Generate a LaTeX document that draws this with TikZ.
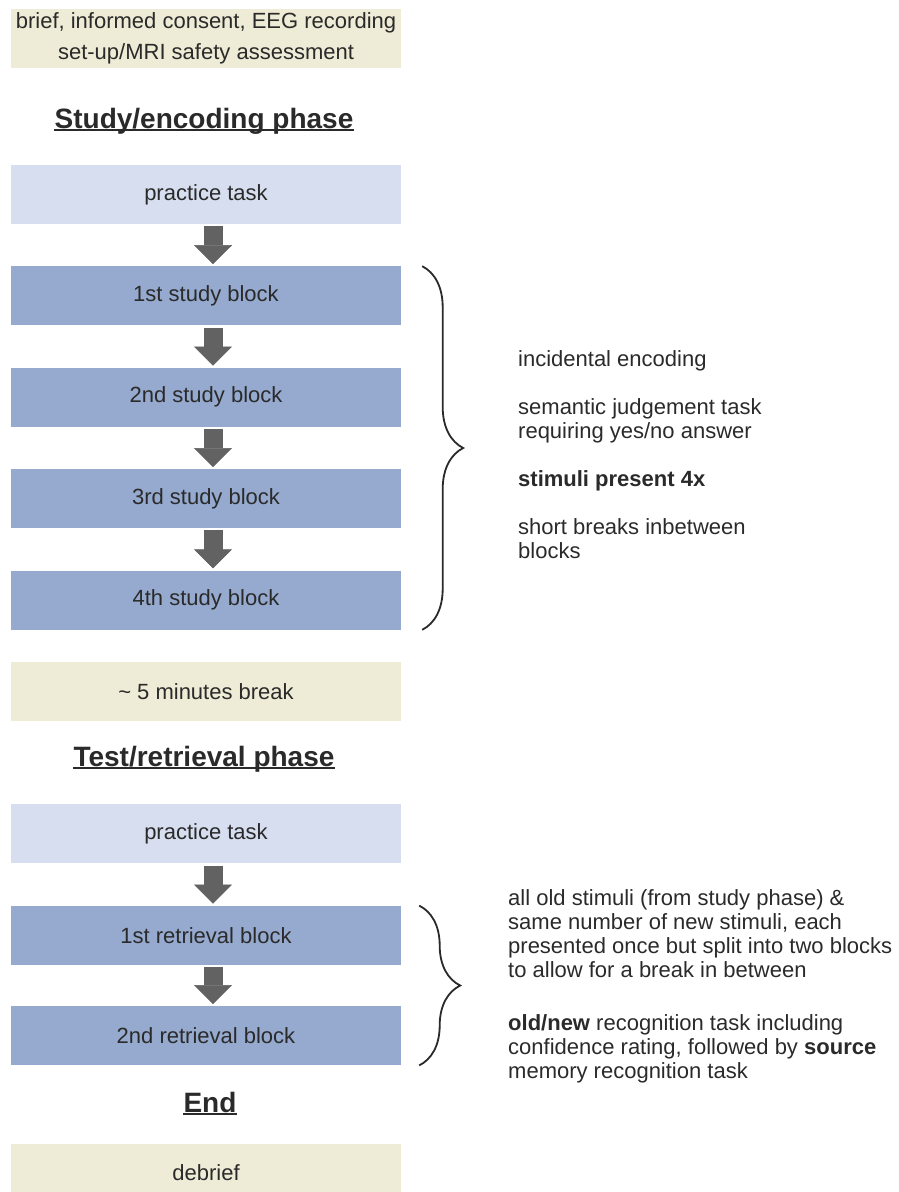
\documentclass[tikz,border=0pt]{standalone}
\usepackage{fontspec}
\setmainfont{Liberation Sans}
\usetikzlibrary{positioning, calc, arrows.meta, decorations.pathreplacing}
\definecolor{infocream}{HTML}{EEECD6}
\definecolor{practiceblue}{HTML}{D6DEEF}
\definecolor{blockblue}{HTML}{95AACE}
\definecolor{arrowgray}{HTML}{626262}
\definecolor{textgray}{HTML}{2A2A2A}
\tikzstyle{phase-box}=[
rectangle,
minimum height=59pt,
minimum width=390pt,
inner sep=0pt,
text=textgray,
font=\fontsize{22}{24}\selectfont,
]
\tikzstyle{phase-info}=[phase-box, fill=infocream]
\tikzstyle{phase-practice}=[phase-box, fill=practiceblue]
\tikzstyle{phase-block}=[phase-box, fill=blockblue]
\tikzstyle{phase-title}=[
anchor=base,
inner sep=0pt,
text=textgray,
font=\bfseries\fontsize{28}{32}\selectfont,
]
\tikzstyle{title-rule}=[draw=textgray, line width=2pt]
\tikzstyle{block-arrow}=[
draw=arrowgray,
line width=19pt,
-{Triangle[length=19pt, width=38pt, line width=0.5pt]},
shorten <=2pt,
shorten >=2pt,
]
\tikzstyle{phase-brace}=[
decorate,
decoration={brace, amplitude=41pt},
draw=textgray,
line width=1.8pt,
]
\tikzstyle{phase-note}=[
anchor=north west,
align=left,
inner sep=0pt,
text=textgray,
font=\fontsize{22}{24}\selectfont,
]

\begin{document}
\begin{tikzpicture}[x=1pt, y=1pt, node distance=42pt]
        \newcommand{\flowarrow}[2]
        {
          \draw[block-arrow] ([xshift=7pt]#1.south) -- ([xshift=7pt]#2.north);
        }
        \clip (0,0) rectangle (898,-1192);

        \node[phase-info, align=center] (brief) at (206,-38)
          {brief, informed consent, EEG recording\\[7pt]set-up/MRI safety assessment};
        \node[phase-title] (study-title) at (204,-128) {Study/encoding phase};

        \node[phase-practice] (practice1) at (206,-194.5) {practice task};
        \node[phase-block, below=of practice1] (study1) {1st study block};
        \node[phase-block, below=of study1] (study2) {2nd study block};
        \node[phase-block, below=of study2] (study3) {3rd study block};
        \node[phase-block, below=of study3] (study4) {4th study block};
        \node[phase-info, below=32pt of study4] (pause) {\textasciitilde{} 5 minutes break};

        \node[phase-title] (test-title) at (204,-766) {Test/retrieval phase};
        \node[phase-practice, below=83pt of pause] (practice2) {practice task};
        \node[phase-block, below=of practice2] (retrieval1) {1st retrieval block};
        \node[phase-block, below=41pt of retrieval1] (retrieval2) {2nd retrieval block};

        \node[phase-title] (end-title) at (210,-1112) {End};
        \node[phase-info, below=78pt of retrieval2] (debrief) {debrief};

        \foreach \t in {study-title, test-title, end-title}
          \draw[title-rule] ([yshift=-2pt]\t.base west) -- ([yshift=-2pt]\t.base east);

        \flowarrow{practice1}{study1}
        \flowarrow{study1}{study2}
        \flowarrow{study2}{study3}
        \flowarrow{study3}{study4}
        \flowarrow{practice2}{retrieval1}
        \flowarrow{retrieval1}{retrieval2}

        \draw[phase-brace] ([xshift=21pt]study1.north east) -- ([xshift=21pt]study4.south east);
        \draw[phase-brace] ([xshift=18pt]retrieval1.north east) -- ([xshift=18pt]retrieval2.south east);

        \node[phase-note] (encoding-note) at (518,-350)
          {incidental encoding\\[24pt]
           semantic judgement task\\
           requiring yes/no answer\\[24pt]
           \textbf{stimuli present 4x}\\[24pt]
           short breaks inbetween\\
           blocks};
        \node[phase-note] (retrieval-note) at (508,-889)
          {all old stimuli (from study phase) \&\\
           same number of new stimuli, each\\
           presented once but split into two blocks\\
           to allow for a break in between\\[29pt]
           \textbf{old/new} recognition task including\\
           confidence rating, followed by \textbf{source}\\
           memory recognition task};
      \end{tikzpicture}
\end{document}
